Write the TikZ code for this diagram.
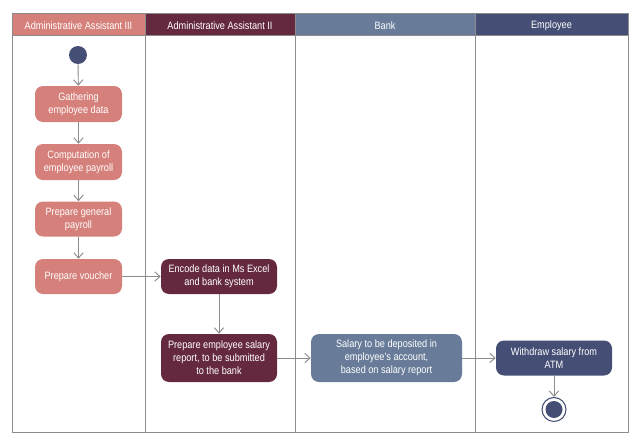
\documentclass[tikz,border=0pt]{standalone}
\usepackage{fontspec}
\setmainfont{Liberation Sans}[FakeStretch=0.86]
\usetikzlibrary{arrows.meta}
\definecolor{laneA}{HTML}{D5807A}
\definecolor{laneB}{HTML}{65293F}
\definecolor{laneC}{HTML}{687C99}
\definecolor{laneD}{HTML}{454F75}
\definecolor{lineg}{HTML}{8C8C8C}
\tikzset{
  act/.style={draw=none, rounded corners=6pt, text=white, align=center,
    font=\fontsize{8}{9.8}\selectfont, inner sep=0pt},
  hdr/.style={text=white, font=\fontsize{8}{9.8}\selectfont},
  flow/.style={draw=lineg, line width=0.7pt, -{Straight Barb[length=4pt,width=7pt]}},
  frame/.style={draw=lineg, line width=0.7pt}
}
\begin{document}
\begin{tikzpicture}[x=0.75pt,y=-0.75pt]
\useasboundingbox (0,0) rectangle (640,443);
% header fills
\fill[laneA] (12,13) rectangle (145,35);
\fill[laneB] (145,13) rectangle (295,35);
\fill[laneC] (295,13) rectangle (475,35);
\fill[laneD] (475,13) rectangle (628,35);
% frame and lanes
\draw[frame] (12,13) rectangle (628,432);
\draw[frame] (12,35) -- (628,35);
\draw[frame] (145,13) -- (145,432);
\draw[frame] (295,13) -- (295,432);
\draw[frame] (475,13) -- (475,432);
% headers
\node[hdr] (h1) at (78.5,26) {Administrative Assistant III};
\node[hdr] (h2) at (220,26) {Administrative Assistant II};
\node[hdr] (h3) at (385,26) {Bank};
\node[hdr] (h4) at (551.5,26) {Employee};
% nodes
\node[circle, fill=laneD, minimum size=18*0.75pt, inner sep=0pt] (start) at (78,55) {};
\node[act, fill=laneA, minimum width=87*0.75pt, minimum height=36*0.75pt] (n1) at (78.5,104) {Gathering\\employee data};
\node[act, fill=laneA, minimum width=87*0.75pt, minimum height=36*0.75pt] (n2) at (78.5,162) {Computation of\\employee payroll};
\node[act, fill=laneA, minimum width=87*0.75pt, minimum height=35*0.75pt] (n3) at (78.5,219) {Prepare general\\payroll};
\node[act, fill=laneA, minimum width=87*0.75pt, minimum height=35*0.75pt] (n4) at (78.5,276.5) {Prepare voucher};
\node[act, fill=laneB, minimum width=116*0.75pt, minimum height=35*0.75pt] (n5) at (219,276.5) {Encode data in Ms Excel\\and bank system};
\node[act, fill=laneB, minimum width=116*0.75pt, minimum height=48*0.75pt] (n6) at (219,358) {Prepare employee salary\\report, to be submitted\\to the bank};
\node[act, fill=laneC, minimum width=151*0.75pt, minimum height=48*0.75pt] (n7) at (386.5,358) {Salary to be deposited in\\employee's account,\\based on salary report};
\node[act, fill=laneD, minimum width=116*0.75pt, minimum height=35*0.75pt] (n8) at (554,358) {Withdraw salary from\\ATM};
\node[circle, draw=laneD, line width=0.8pt, fill=white, minimum size=24*0.75pt, inner sep=0pt] (endo) at (554,409.5) {};
\node[circle, fill=laneD, minimum size=17*0.75pt, inner sep=0pt] (endi) at (554,409.5) {};
% connectors
\draw[flow] (start) -- (n1);
\draw[flow] (n1) -- (n2);
\draw[flow] (n2) -- (n3);
\draw[flow] (n3) -- (n4);
\draw[flow] (n4) -- (n5);
\draw[flow] (n5) -- (n6);
\draw[flow] (n6) -- (n7);
\draw[flow] (n7) -- (n8);
\draw[flow] (n8) -- (endo);
\end{tikzpicture}
\end{document}
